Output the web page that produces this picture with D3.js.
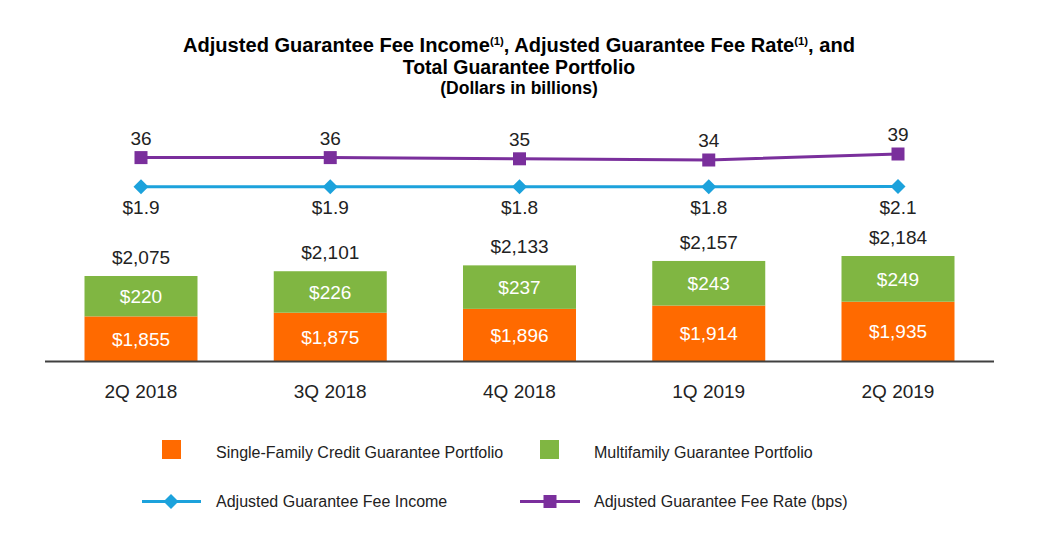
<!DOCTYPE html>
<html>
<head>
<meta charset="utf-8">
<script src="https://cdn.jsdelivr.net/npm/d3@7"></script>
<style>
  body { margin: 0; background: #fff; }
  text { font-family: "Liberation Sans", Arial, Helvetica, sans-serif; }
</style>
</head>
<body>
<div id="chart"></div>
<script>
// Data
const quarters = ["2Q 2018", "3Q 2018", "4Q 2018", "1Q 2019", "2Q 2019"];
const singleFamily = [1855, 1875, 1896, 1914, 1935];
const multifamily = [220, 226, 237, 243, 249];
const totalPortfolio = [2075, 2101, 2133, 2157, 2184];
const feeIncome = [1.9, 1.9, 1.8, 1.8, 2.1];
const feeRate = [36, 36, 35, 34, 39];

const width = 1041, height = 551;
const orange = "#ff6a00", green = "#80b642", blue = "#1ca2dc", purple = "#7a2f9c";

const svg = d3.select("#chart")
  .append("svg")
  .attr("width", width)
  .attr("height", height);

// Title
const title = svg.append("g")
  .attr("text-anchor", "middle")
  .attr("font-weight", "bold")
  .attr("fill", "#000");

const t1 = title.append("text")
  .attr("x", 519)
  .attr("y", 52)
  .attr("font-size", 19.5)
  .attr("textLength", 672)
  .attr("lengthAdjust", "spacingAndGlyphs");
t1.append("tspan").text("Adjusted Guarantee Fee Income");
t1.append("tspan").attr("font-size", 11).attr("dy", -7).text("(1)");
t1.append("tspan").attr("dy", 7).text(", Adjusted Guarantee Fee Rate");
t1.append("tspan").attr("font-size", 11).attr("dy", -7).text("(1)");
t1.append("tspan").attr("dy", 7).text(", and");

title.append("text")
  .attr("x", 519)
  .attr("y", 74)
  .attr("font-size", 19.5)
  .text("Total Guarantee Portfolio");

title.append("text")
  .attr("x", 519)
  .attr("y", 94)
  .attr("font-size", 17.5)
  .text("(Dollars in billions)");

// Scales
const x = d3.scalePoint().domain(quarters).range([141, 898]);
const barW = 113;
const yBar = d3.scaleLinear().domain([1612, 2184]).range([361, 256]);
const yRate = d3.scaleLinear().domain([34, 39]).range([160, 154]);
const yIncome = d3.scaleLinear().domain([1.8, 2.1]).range([186.7, 186.5]);

const rows = quarters.map((q, i) => ({
  q: q, sf: singleFamily[i], mf: multifamily[i], total: totalPortfolio[i],
  income: feeIncome[i], rate: feeRate[i]
}));

// Stacked bars
const stack = d3.stack().keys(["sf", "mf"]);
const layers = stack(rows);
const colors = {sf: orange, mf: green};

svg.append("g")
  .selectAll("g")
  .data(layers)
  .join("g")
  .attr("fill", d => colors[d.key])
  .selectAll("rect")
  .data(d => d)
  .join("rect")
  .attr("x", d => x(d.data.q) - barW / 2)
  .attr("width", barW)
  .attr("y", d => yBar(Math.max(d[1], 1612)))
  .attr("height", d => yBar(Math.max(d[0], 1612)) - yBar(Math.max(d[1], 1612)));

// Labels inside bars
svg.append("g")
  .selectAll("text")
  .data(layers)
  .join("g")
  .selectAll("text")
  .data(d => d)
  .join("text")
  .attr("x", d => x(d.data.q))
  .attr("y", d => (yBar(Math.max(d[0], 1612)) + yBar(d[1])) / 2)
  .attr("dy", "0.36em")
  .attr("text-anchor", "middle")
  .attr("font-size", 19)
  .attr("fill", "#fff")
  .text(d => "$" + d3.format(",")(d[1] - d[0]));

// Total labels
svg.append("g")
  .selectAll("text")
  .data(rows)
  .join("text")
  .attr("x", d => x(d.q))
  .attr("y", d => yBar(d.total) - 12)
  .attr("text-anchor", "middle")
  .attr("font-size", 19)
  .attr("fill", "#222")
  .text(d => "$" + d3.format(",")(d.total));

// Baseline axis
svg.append("line")
  .attr("x1", 45).attr("x2", 994)
  .attr("y1", 361.5).attr("y2", 361.5)
  .attr("stroke", "#404040")
  .attr("stroke-width", 2);

// X axis labels
svg.append("g")
  .selectAll("text")
  .data(quarters)
  .join("text")
  .attr("x", d => x(d))
  .attr("y", 398)
  .attr("text-anchor", "middle")
  .attr("font-size", 19)
  .attr("fill", "#222")
  .text(d => d);

// Fee rate line (purple squares)
svg.append("path")
  .datum(rows)
  .attr("fill", "none")
  .attr("stroke", purple)
  .attr("stroke-width", 3)
  .attr("d", d3.line().x(d => x(d.q)).y(d => yRate(d.rate)));

svg.append("g")
  .selectAll("rect")
  .data(rows)
  .join("rect")
  .attr("x", d => x(d.q) - 6.5)
  .attr("y", d => yRate(d.rate) - 6.5)
  .attr("width", 13)
  .attr("height", 13)
  .attr("fill", purple);

svg.append("g")
  .selectAll("text")
  .data(rows)
  .join("text")
  .attr("x", d => x(d.q))
  .attr("y", d => yRate(d.rate) - 13)
  .attr("text-anchor", "middle")
  .attr("font-size", 19)
  .attr("fill", "#222")
  .text(d => d.rate);

// Fee income line (blue diamonds)
svg.append("path")
  .datum(rows)
  .attr("fill", "none")
  .attr("stroke", blue)
  .attr("stroke-width", 3)
  .attr("d", d3.line().x(d => x(d.q)).y(d => yIncome(d.income)));

svg.append("g")
  .selectAll("path")
  .data(rows)
  .join("path")
  .attr("transform", d => `translate(${x(d.q)},${yIncome(d.income)})`)
  .attr("d", "M0,-7.5L7.5,0L0,7.5L-7.5,0Z")
  .attr("fill", blue);

svg.append("g")
  .selectAll("text")
  .data(rows)
  .join("text")
  .attr("x", d => x(d.q))
  .attr("y", d => yIncome(d.income) + 27)
  .attr("text-anchor", "middle")
  .attr("font-size", 19)
  .attr("fill", "#222")
  .text(d => "$" + d3.format(".1f")(d.income));

// Legend
const legend = svg.append("g").attr("font-size", 16).attr("fill", "#222");

legend.append("rect").attr("x", 162).attr("y", 440).attr("width", 19).attr("height", 19).attr("fill", orange);
legend.append("text").attr("x", 216).attr("y", 458).text("Single-Family Credit Guarantee Portfolio");

legend.append("rect").attr("x", 540).attr("y", 440).attr("width", 19).attr("height", 19).attr("fill", green);
legend.append("text").attr("x", 594).attr("y", 458).text("Multifamily Guarantee Portfolio");

legend.append("line").attr("x1", 142).attr("x2", 201).attr("y1", 501.5).attr("y2", 501.5)
  .attr("stroke", blue).attr("stroke-width", 3);
legend.append("path").attr("transform", "translate(171,501.5)")
  .attr("d", "M0,-7.5L7.5,0L0,7.5L-7.5,0Z").attr("fill", blue);
legend.append("text").attr("x", 216).attr("y", 507).text("Adjusted Guarantee Fee Income");

legend.append("line").attr("x1", 520).attr("x2", 580).attr("y1", 501.5).attr("y2", 501.5)
  .attr("stroke", purple).attr("stroke-width", 3);
legend.append("rect").attr("x", 543.5).attr("y", 495).attr("width", 13).attr("height", 13).attr("fill", purple);
legend.append("text").attr("x", 594).attr("y", 507).text("Adjusted Guarantee Fee Rate (bps)");
</script>
</body>
</html>
